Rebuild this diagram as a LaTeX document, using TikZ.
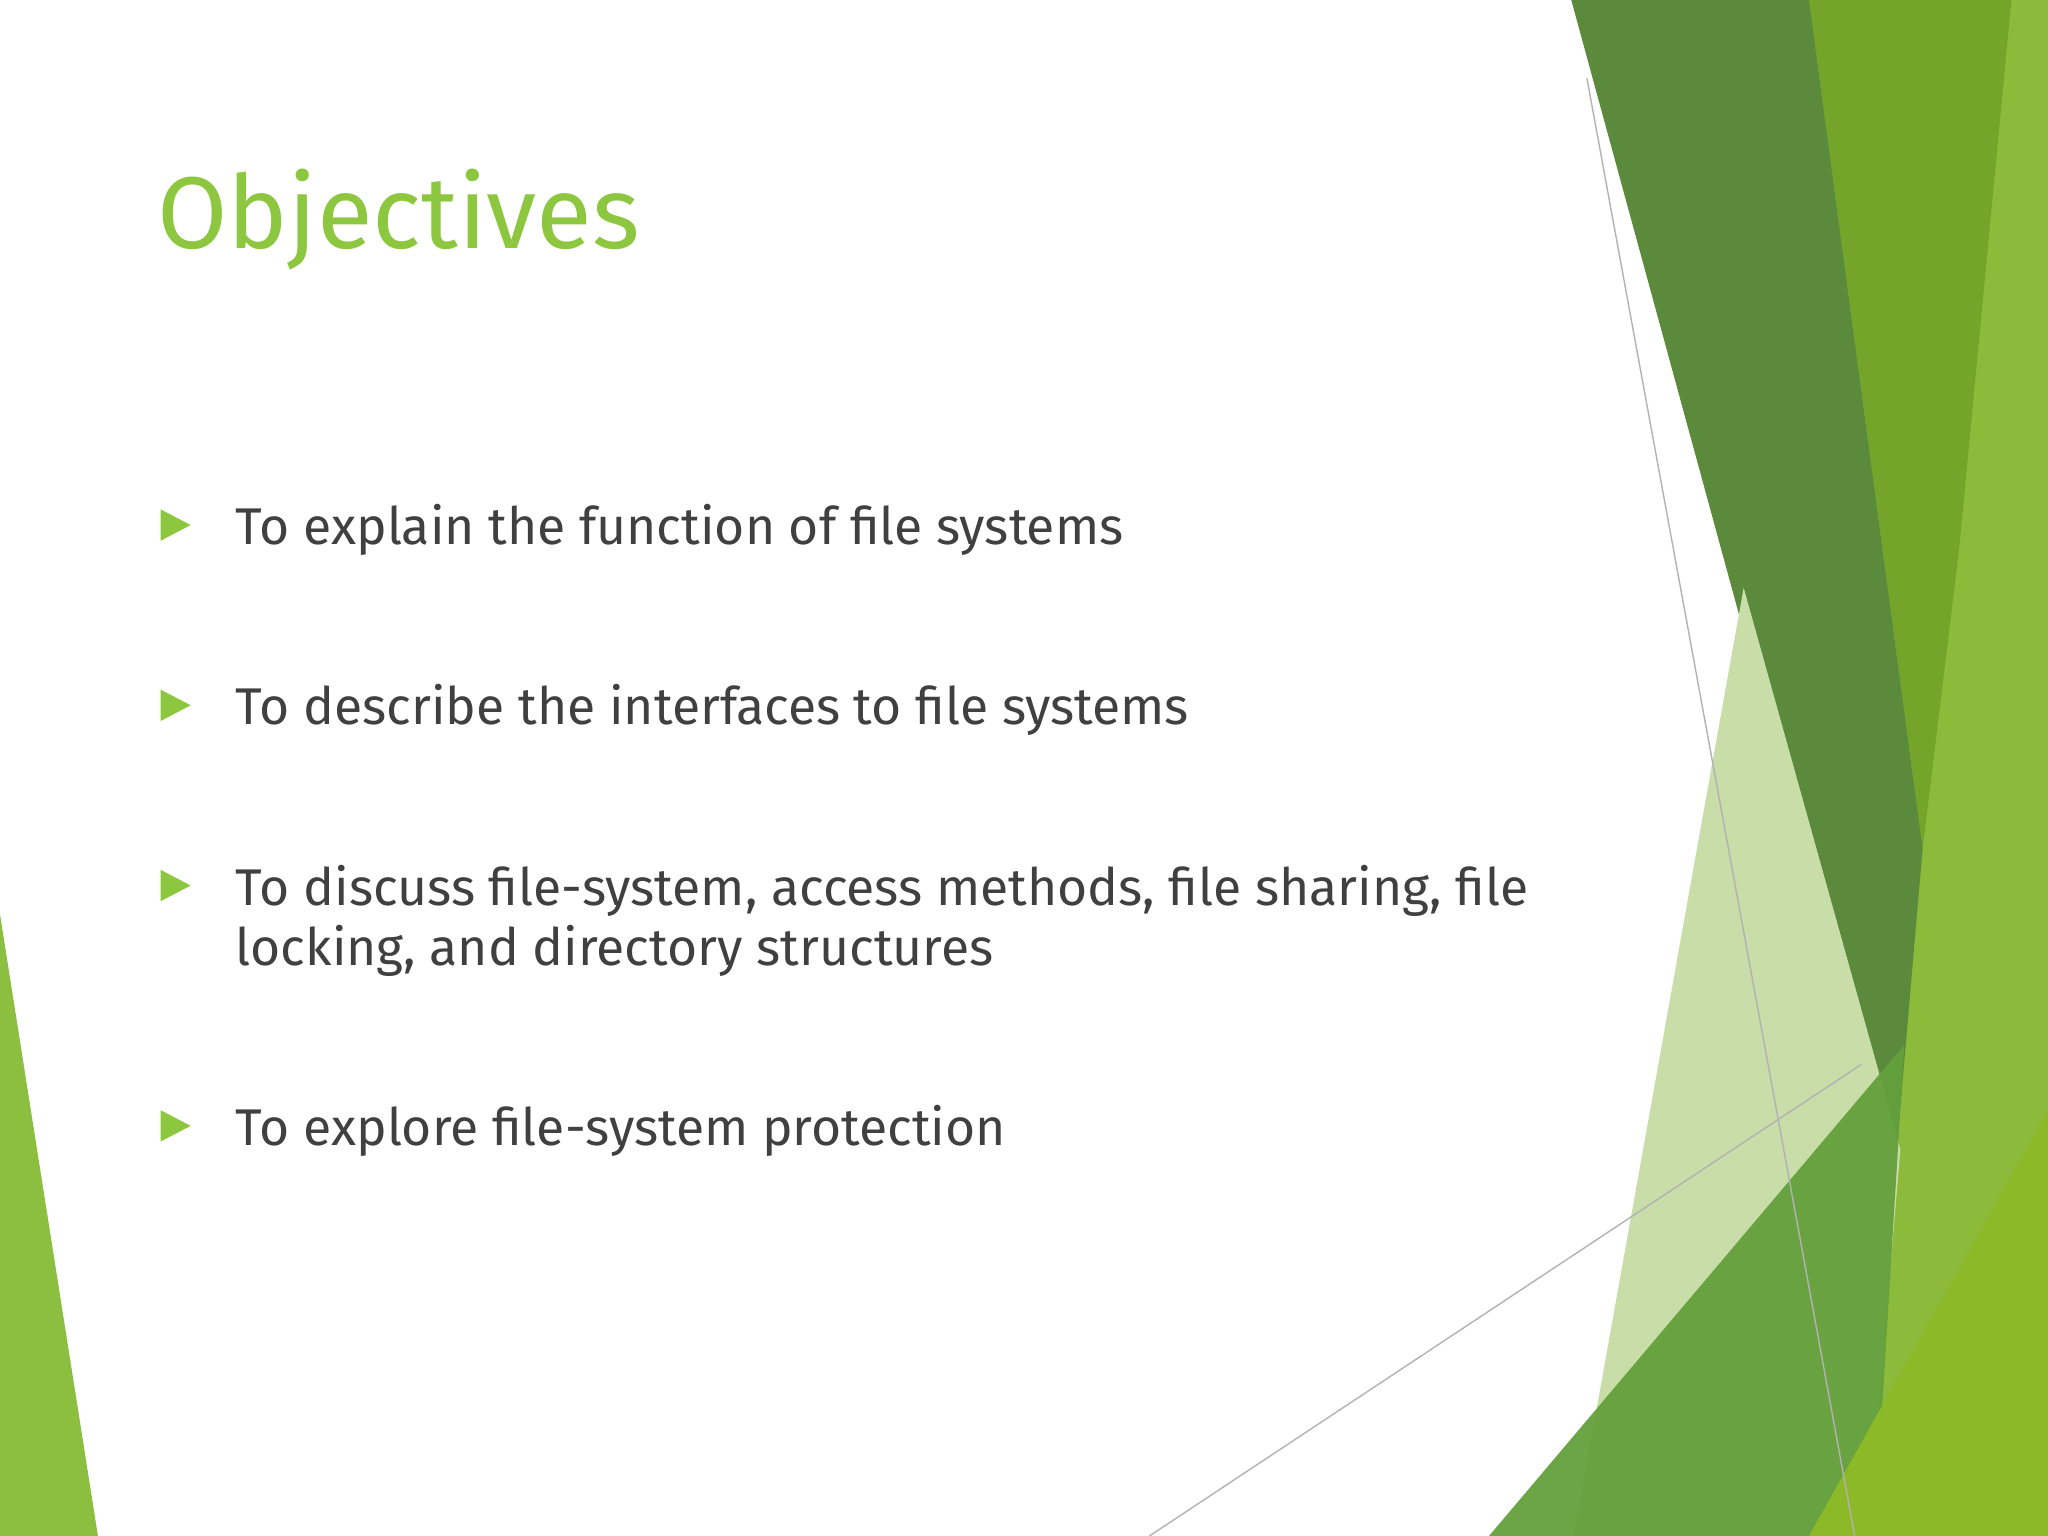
\documentclass[tikz,border=0pt]{standalone}
\usepackage{fontspec}
\setmainfont{Fira Sans}
\definecolor{tgreen}{HTML}{8DC63F}
\definecolor{txt}{HTML}{404040}
\tikzset{
  bul/.style={fill=tgreen},
  item/.style={anchor=base west,text=txt,font=\fontsize{14.7}{18}\selectfont,inner sep=0pt},
  thin/.style={draw=gray!60,line width=0.4pt}
}
\begin{document}
\begin{tikzpicture}[x=0.013061cm,y=-0.013061cm]
\useasboundingbox (0,0) rectangle (1568,1176);
% right facets
\fill[fill={rgb,255:red,140;green,186;blue,58}] (1385,0)--(1568,0)--(1568,1176)--(1420,1176)--cycle;
\fill[fill={rgb,255:red,116;green,165;blue,42}] (1385,0)--(1540,0)--(1500,420)--(1472,650)--cycle;
\fill[fill={rgb,255:red,91;green,138;blue,60}] (1203,0)--(1385,0)--(1472,650)--(1450,905)--cycle;
\fill[fill={rgb,255:red,200;green,221;blue,168}] (1335,450)--(1455,880)--(1430,1176)--(1205,1176)--cycle;
\fill[fill={rgb,255:red,100;green,160;blue,60},opacity=0.95] (1140,1176)--(1458,800)--(1435,1176)--cycle;
\fill[fill={rgb,255:red,140;green,185;blue,40}] (1385,1176)--(1568,850)--(1568,1176)--cycle;
\draw[thin] (1215,60)--(1420,1176);
\draw[thin] (880,1176)--(1425,815);
% left strip
\fill[fill={rgb,255:red,140;green,191;blue,63}] (0,700)--(75,1176)--(0,1176)--cycle;
% title
\node[anchor=base west,inner sep=0pt,text=tgreen,font=\fontsize{29}{34}\selectfont] (title) at (120,190) {Objectives};
% bullets
\foreach \n/\y in {a/390,b/528,c/666,d/850}{
  \fill[bul] (123,\y)--(146,\y+12)--(123,\y+24)--cycle;
}
\node[item] (i1) at (180,417) {To explain the function of file systems};
\node[item] (i2) at (180,555) {To describe the interfaces to file systems};
\node[item] (i3) at (180,693) {To discuss file-system, access methods, file sharing, file};
\node[item] (i3b) at (180,739) {locking, and directory structures};
\node[item] (i4) at (180,877) {To explore file-system protection};
\end{tikzpicture}
\end{document}
